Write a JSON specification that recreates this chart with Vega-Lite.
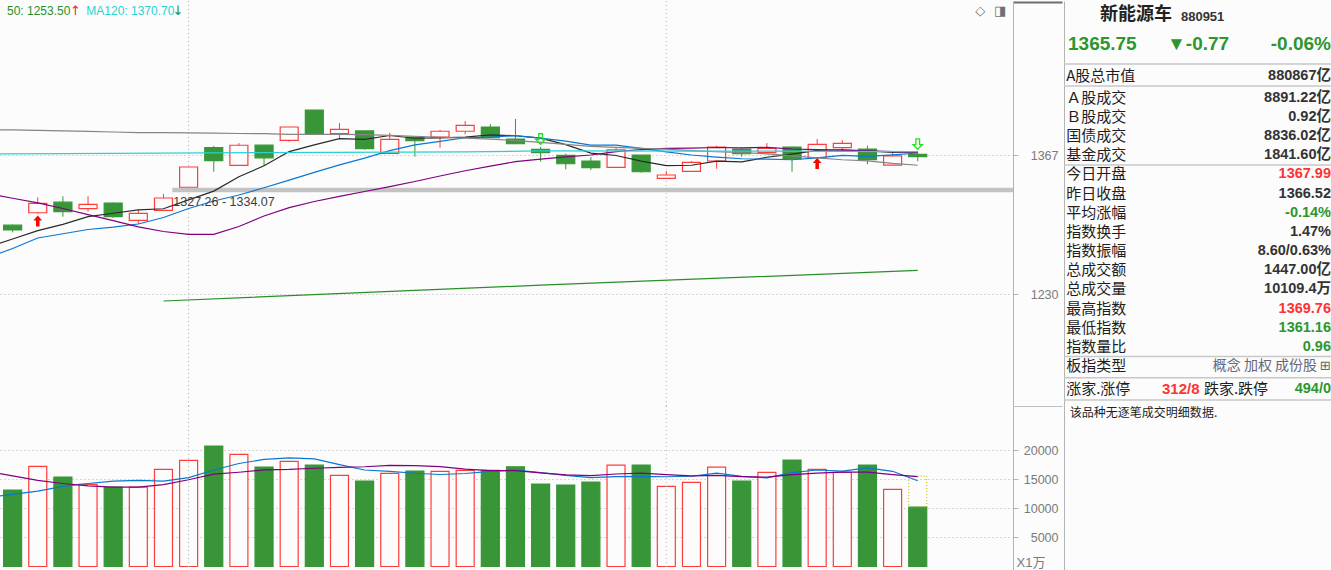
{
"$schema": "https://vega.github.io/schema/vega-lite/v6.json",
"padding": 0,
"background": "#fcfcfc",
"config": {"view": {"stroke": null}, "axis": {"labelFont": "Liberation Sans", "labelColor": "#7a7a7a", "labelFontSize": 12.5, "domainColor": "#b4b4b4", "tickColor": "#b4b4b4"}},
"datasets": {
"k": [
{"i":0,"o":1298.1,"h":1298.6,"l":1291.0,"c":1293.4,"vol":13160},
{"i":1,"o":1310.4,"h":1325.6,"l":1309.4,"c":1319.7,"vol":17240},
{"i":2,"o":1320.8,"h":1326.6,"l":1306.5,"c":1311.4,"vol":15400},
{"i":3,"o":1314.4,"h":1326.6,"l":1311.4,"c":1318.7,"vol":14140},
{"i":4,"o":1320.0,"h":1320.5,"l":1305.5,"c":1306.5,"vol":13680},
{"i":5,"o":1302.9,"h":1313.8,"l":1299.3,"c":1309.8,"vol":13680},
{"i":6,"o":1312.8,"h":1328.9,"l":1311.8,"c":1324.9,"vol":16720},
{"i":7,"o":1335.5,"h":1355.5,"l":1335.5,"c":1355.5,"vol":18280},
{"i":8,"o":1374.5,"h":1376.2,"l":1350.8,"c":1361.7,"vol":20750},
{"i":9,"o":1357.1,"h":1379.1,"l":1357.1,"c":1376.9,"vol":19310},
{"i":10,"o":1377.0,"h":1377.0,"l":1356.5,"c":1364.5,"vol":17130},
{"i":11,"o":1381.8,"h":1394.9,"l":1380.4,"c":1394.9,"vol":18100},
{"i":12,"o":1411.6,"h":1411.6,"l":1387.7,"c":1388.7,"vol":17470},
{"i":13,"o":1388.3,"h":1398.8,"l":1384.0,"c":1392.6,"vol":15690},
{"i":14,"o":1391.0,"h":1391.0,"l":1372.5,"c":1373.5,"vol":14710},
{"i":15,"o":1369.0,"h":1389.3,"l":1369.0,"c":1382.8,"vol":16030},
{"i":16,"o":1385.0,"h":1385.0,"l":1365.6,"c":1381.4,"vol":16440},
{"i":17,"o":1385.0,"h":1392.0,"l":1374.5,"c":1390.7,"vol":16380},
{"i":18,"o":1390.7,"h":1400.8,"l":1387.7,"c":1396.6,"vol":16550},
{"i":19,"o":1394.9,"h":1397.8,"l":1384.0,"c":1384.3,"vol":16550},
{"i":20,"o":1383.0,"h":1402.8,"l":1378.0,"c":1378.4,"vol":17180},
{"i":21,"o":1372.9,"h":1375.2,"l":1360.7,"c":1369.6,"vol":14200},
{"i":22,"o":1367.0,"h":1368.6,"l":1353.2,"c":1358.7,"vol":14020},
{"i":23,"o":1361.4,"h":1365.3,"l":1352.5,"c":1354.8,"vol":14540},
{"i":24,"o":1355.2,"h":1374.5,"l":1355.2,"c":1372.5,"vol":17470},
{"i":25,"o":1367.3,"h":1367.3,"l":1349.9,"c":1350.8,"vol":17470},
{"i":26,"o":1344.3,"h":1351.5,"l":1344.3,"c":1347.6,"vol":13790},
{"i":27,"o":1351.2,"h":1361.4,"l":1351.2,"c":1360.1,"vol":14480},
{"i":28,"o":1361.4,"h":1376.5,"l":1353.8,"c":1375.2,"vol":17130},
{"i":29,"o":1373.2,"h":1374.5,"l":1365.6,"c":1368.6,"vol":14710},
{"i":30,"o":1369.6,"h":1379.1,"l":1368.3,"c":1373.9,"vol":16210},
{"i":31,"o":1375.2,"h":1375.5,"l":1350.8,"c":1363.4,"vol":18330},
{"i":32,"o":1364.6,"h":1383.1,"l":1364.6,"c":1377.8,"vol":16720},
{"i":33,"o":1374.5,"h":1381.8,"l":1371.2,"c":1378.8,"vol":16210},
{"i":34,"o":1373.2,"h":1376.5,"l":1358.1,"c":1362.7,"vol":17470},
{"i":35,"o":1357.4,"h":1370.0,"l":1357.4,"c":1366.52,"vol":13280},
{"i":36,"o":1367.99,"h":1369.76,"l":1361.16,"c":1365.75,"vol":10230}
],
"ma": [
{"i":-1,"s":"MA5","v":1276.2},{"i":0,"s":"MA5","v":1284.5},{"i":1,"s":"MA5","v":1292.8},{"i":2,"s":"MA5","v":1299.0},{"i":3,"s":"MA5","v":1306.5},{"i":4,"s":"MA5","v":1309.9},{"i":5,"s":"MA5","v":1313.2},{"i":6,"s":"MA5","v":1314.3},{"i":7,"s":"MA5","v":1323.1},{"i":8,"s":"MA5","v":1331.7},{"i":9,"s":"MA5","v":1345.8},{"i":10,"s":"MA5","v":1356.7},{"i":11,"s":"MA5","v":1370.7},{"i":12,"s":"MA5","v":1377.3},{"i":13,"s":"MA5","v":1383.5},{"i":14,"s":"MA5","v":1382.8},{"i":15,"s":"MA5","v":1386.5},{"i":16,"s":"MA5","v":1383.8},{"i":17,"s":"MA5","v":1384.2},{"i":18,"s":"MA5","v":1385.0},{"i":19,"s":"MA5","v":1387.2},{"i":20,"s":"MA5","v":1386.3},{"i":21,"s":"MA5","v":1383.9},{"i":22,"s":"MA5","v":1377.5},{"i":23,"s":"MA5","v":1369.2},{"i":24,"s":"MA5","v":1366.8},{"i":25,"s":"MA5","v":1361.3},{"i":26,"s":"MA5","v":1356.9},{"i":27,"s":"MA5","v":1357.2},{"i":28,"s":"MA5","v":1361.2},{"i":29,"s":"MA5","v":1360.5},{"i":30,"s":"MA5","v":1365.1},{"i":31,"s":"MA5","v":1368.2},{"i":32,"s":"MA5","v":1371.8},{"i":33,"s":"MA5","v":1372.5},{"i":34,"s":"MA5","v":1371.3},{"i":35,"s":"MA5","v":1369.8},{"i":36,"s":"MA5","v":1370.3},
{"i":-1,"s":"MA10","v":1266.1},{"i":0,"s":"MA10","v":1275.2},{"i":1,"s":"MA10","v":1285.5},{"i":2,"s":"MA10","v":1289.7},{"i":3,"s":"MA10","v":1293.9},{"i":4,"s":"MA10","v":1296.3},{"i":5,"s":"MA10","v":1299.3},{"i":6,"s":"MA10","v":1305.7},{"i":7,"s":"MA10","v":1314.6},{"i":8,"s":"MA10","v":1322.0},{"i":9,"s":"MA10","v":1327.9},{"i":10,"s":"MA10","v":1335.0},{"i":11,"s":"MA10","v":1342.5},{"i":12,"s":"MA10","v":1350.2},{"i":13,"s":"MA10","v":1357.6},{"i":14,"s":"MA10","v":1364.3},{"i":15,"s":"MA10","v":1371.6},{"i":16,"s":"MA10","v":1377.3},{"i":17,"s":"MA10","v":1380.8},{"i":18,"s":"MA10","v":1384.3},{"i":19,"s":"MA10","v":1385.0},{"i":20,"s":"MA10","v":1386.4},{"i":21,"s":"MA10","v":1383.9},{"i":22,"s":"MA10","v":1380.9},{"i":23,"s":"MA10","v":1377.1},{"i":24,"s":"MA10","v":1377.0},{"i":25,"s":"MA10","v":1373.8},{"i":26,"s":"MA10","v":1370.4},{"i":27,"s":"MA10","v":1367.3},{"i":28,"s":"MA10","v":1365.2},{"i":29,"s":"MA10","v":1363.6},{"i":30,"s":"MA10","v":1363.2},{"i":31,"s":"MA10","v":1362.6},{"i":32,"s":"MA10","v":1364.5},{"i":33,"s":"MA10","v":1366.9},{"i":34,"s":"MA10","v":1365.9},{"i":35,"s":"MA10","v":1367.5},{"i":36,"s":"MA10","v":1369.3},
{"i":-1,"s":"MA20","v":1329.4},{"i":0,"s":"MA20","v":1324.7},{"i":1,"s":"MA20","v":1320.1},{"i":2,"s":"MA20","v":1314.6},{"i":3,"s":"MA20","v":1308.5},{"i":4,"s":"MA20","v":1302.7},{"i":5,"s":"MA20","v":1296.5},{"i":6,"s":"MA20","v":1291.9},{"i":7,"s":"MA20","v":1289.1},{"i":8,"s":"MA20","v":1289.1},{"i":9,"s":"MA20","v":1296.8},{"i":10,"s":"MA20","v":1307.2},{"i":11,"s":"MA20","v":1315.5},{"i":12,"s":"MA20","v":1321.5},{"i":13,"s":"MA20","v":1326.5},{"i":14,"s":"MA20","v":1331.3},{"i":15,"s":"MA20","v":1336.1},{"i":16,"s":"MA20","v":1341.2},{"i":17,"s":"MA20","v":1346.6},{"i":18,"s":"MA20","v":1351.8},{"i":19,"s":"MA20","v":1356.4},{"i":20,"s":"MA20","v":1360.7},{"i":21,"s":"MA20","v":1363.2},{"i":22,"s":"MA20","v":1365.5},{"i":23,"s":"MA20","v":1367.3},{"i":24,"s":"MA20","v":1370.6},{"i":25,"s":"MA20","v":1372.7},{"i":26,"s":"MA20","v":1373.8},{"i":27,"s":"MA20","v":1374.1},{"i":28,"s":"MA20","v":1374.7},{"i":29,"s":"MA20","v":1374.3},{"i":30,"s":"MA20","v":1374.8},{"i":31,"s":"MA20","v":1373.2},{"i":32,"s":"MA20","v":1372.7},{"i":33,"s":"MA20","v":1372.0},{"i":34,"s":"MA20","v":1371.4},{"i":35,"s":"MA20","v":1370.6},{"i":36,"s":"MA20","v":1369.8},
{"i":-1,"s":"MA60","v":1392.2},{"i":0,"s":"MA60","v":1392.0},{"i":1,"s":"MA60","v":1391.5},{"i":2,"s":"MA60","v":1391.0},{"i":3,"s":"MA60","v":1390.6},{"i":4,"s":"MA60","v":1390.0},{"i":5,"s":"MA60","v":1389.3},{"i":6,"s":"MA60","v":1389.3},{"i":7,"s":"MA60","v":1389.2},{"i":8,"s":"MA60","v":1388.9},{"i":9,"s":"MA60","v":1388.5},{"i":10,"s":"MA60","v":1388.3},{"i":11,"s":"MA60","v":1387.7},{"i":12,"s":"MA60","v":1387.7},{"i":13,"s":"MA60","v":1387.6},{"i":14,"s":"MA60","v":1387.4},{"i":15,"s":"MA60","v":1386.7},{"i":16,"s":"MA60","v":1385.8},{"i":17,"s":"MA60","v":1384.8},{"i":18,"s":"MA60","v":1384.0},{"i":19,"s":"MA60","v":1383.0},{"i":20,"s":"MA60","v":1381.5},{"i":21,"s":"MA60","v":1379.8},{"i":22,"s":"MA60","v":1377.8},{"i":23,"s":"MA60","v":1375.8},{"i":24,"s":"MA60","v":1374.8},{"i":25,"s":"MA60","v":1373.9},{"i":26,"s":"MA60","v":1373.0},{"i":27,"s":"MA60","v":1371.6},{"i":28,"s":"MA60","v":1370.5},{"i":29,"s":"MA60","v":1369.6},{"i":30,"s":"MA60","v":1368.5},{"i":31,"s":"MA60","v":1366.5},{"i":32,"s":"MA60","v":1364.5},{"i":33,"s":"MA60","v":1362.6},{"i":34,"s":"MA60","v":1361.5},{"i":35,"s":"MA60","v":1359.0},{"i":36,"s":"MA60","v":1357.2},
{"i":-1,"s":"MA120","v":1368.4},{"i":2,"s":"MA120","v":1368.7},{"i":10,"s":"MA120","v":1369.6},{"i":18,"s":"MA120","v":1370.3},{"i":21,"s":"MA120","v":1371.3},{"i":28,"s":"MA120","v":1371.2},{"i":36,"s":"MA120","v":1370.7},
{"i":6,"s":"MA250","v":1223.4},{"i":21,"s":"MA250","v":1239.0},{"i":36,"s":"MA250","v":1253.5}
],
"vma": [
{"i":-1,"s":"VMA5","v":11900},{"i":0,"s":"VMA5","v":12410},{"i":1,"s":"VMA5","v":12990},{"i":2,"s":"VMA5","v":13800},{"i":3,"s":"VMA5","v":14300},{"i":4,"s":"VMA5","v":14724},{"i":5,"s":"VMA5","v":14828},{"i":6,"s":"VMA5","v":14724},{"i":7,"s":"VMA5","v":15300},{"i":8,"s":"VMA5","v":16622},{"i":9,"s":"VMA5","v":17748},{"i":10,"s":"VMA5","v":18438},{"i":11,"s":"VMA5","v":18714},{"i":12,"s":"VMA5","v":18552},{"i":13,"s":"VMA5","v":17540},{"i":14,"s":"VMA5","v":16620},{"i":15,"s":"VMA5","v":16400},{"i":16,"s":"VMA5","v":16068},{"i":17,"s":"VMA5","v":15850},{"i":18,"s":"VMA5","v":16022},{"i":19,"s":"VMA5","v":16390},{"i":20,"s":"VMA5","v":16620},{"i":21,"s":"VMA5","v":16172},{"i":22,"s":"VMA5","v":15700},{"i":23,"s":"VMA5","v":15298},{"i":24,"s":"VMA5","v":15482},{"i":25,"s":"VMA5","v":15540},{"i":26,"s":"VMA5","v":15458},{"i":27,"s":"VMA5","v":15550},{"i":28,"s":"VMA5","v":16068},{"i":29,"s":"VMA5","v":15516},{"i":30,"s":"VMA5","v":15264},{"i":31,"s":"VMA5","v":16172},{"i":32,"s":"VMA5","v":16620},{"i":33,"s":"VMA5","v":16436},{"i":34,"s":"VMA5","v":16984},{"i":35,"s":"VMA5","v":16398},{"i":36,"s":"VMA5","v":14778},
{"i":-1,"s":"VMA10","v":16400},{"i":0,"s":"VMA10","v":15600},{"i":1,"s":"VMA10","v":14830},{"i":2,"s":"VMA10","v":14300},{"i":3,"s":"VMA10","v":13900},{"i":4,"s":"VMA10","v":13680},{"i":5,"s":"VMA10","v":13680},{"i":6,"s":"VMA10","v":14100},{"i":7,"s":"VMA10","v":14950},{"i":8,"s":"VMA10","v":15900},{"i":9,"s":"VMA10","v":16236},{"i":10,"s":"VMA10","v":16633},{"i":11,"s":"VMA10","v":16719},{"i":12,"s":"VMA10","v":16926},{"i":13,"s":"VMA10","v":17081},{"i":14,"s":"VMA10","v":17184},{"i":15,"s":"VMA10","v":17419},{"i":16,"s":"VMA10","v":17391},{"i":17,"s":"VMA10","v":17201},{"i":18,"s":"VMA10","v":16781},{"i":19,"s":"VMA10","v":16505},{"i":20,"s":"VMA10","v":16510},{"i":21,"s":"VMA10","v":16120},{"i":22,"s":"VMA10","v":15775},{"i":23,"s":"VMA10","v":15660},{"i":24,"s":"VMA10","v":15936},{"i":25,"s":"VMA10","v":16080},{"i":26,"s":"VMA10","v":15815},{"i":27,"s":"VMA10","v":15625},{"i":28,"s":"VMA10","v":15683},{"i":29,"s":"VMA10","v":15499},{"i":30,"s":"VMA10","v":15402},{"i":31,"s":"VMA10","v":15815},{"i":32,"s":"VMA10","v":16082},{"i":33,"s":"VMA10","v":16249},{"i":34,"s":"VMA10","v":16249},{"i":35,"s":"VMA10","v":15830},{"i":36,"s":"VMA10","v":15474}
]
},
"spacing": 0,
"bounds": "full",
"resolve": {"scale": {"color": "independent"}},
"hconcat": [
{
"spacing": 0,
"bounds": "flush",
"resolve": {"scale": {"color": "independent"}},
"vconcat": [
{
"width": 1013,
"height": 405,
"layer": [
{"data": {"values": [{"i": 6.35, "i2": 40, "lo": 1330.5, "hi": 1335.1}]},
 "mark": {"type": "rect", "clip": true, "color": "#c3c3c3"},
 "encoding": {
  "x": {"field": "i", "type": "quantitative", "scale": {"domain": [-0.303, 39.59], "nice": false, "zero": false}, "axis": null},
  "x2": {"field": "i2"},
  "y": {"field": "lo", "type": "quantitative", "scale": {"domain": [1119.9, 1519.1], "nice": false, "zero": false},
   "axis": {"orient": "right", "title": null, "values": [1119.9, 1230, 1367, 1518.1], "format": "d",
    "labelExpr": "(datum.value < 1121 || datum.value > 1500) ? '' : datum.label",
    "tickSize": {"condition": {"test": "datum.value < 1121 || datum.value > 1500", "value": 49}, "value": 5},
    "tickColor": {"condition": [{"test": "datum.value < 1121", "value": "#c0c0c0"}, {"test": "datum.value > 1500", "value": "#6e6e6e"}], "value": "#b4b4b4"},
    "tickWidth": {"condition": {"test": "datum.value > 1500", "value": 2}, "value": 1},
    "grid": true, "gridDash": [1, 3], "gridColor": "#b0b0b0",
    "gridOpacity": {"condition": {"test": "datum.value < 1121 || datum.value > 1500", "value": 0}, "value": 1},
    "labelAlign": "right", "labelPadding": 40, "labelBaseline": "middle", "domainColor": "#b4b4b4"}},
  "y2": {"field": "hi"}}},
{"data": {"values": [{"i": 7}, {"i": 26}]},
 "mark": {"type": "rule", "strokeDash": [1, 3], "color": "#b0b0b0", "strokeWidth": 1},
 "encoding": {"x": {"field": "i", "type": "quantitative", "scale": {"domain": [-0.303, 39.59], "nice": false, "zero": false}, "axis": null}}},
{"mark": {"type": "rule", "clip": true, "color": "#6e6e6e", "strokeWidth": 2},
 "encoding": {"y": {"datum": 1518.1, "type": "quantitative", "scale": {"domain": [1119.9, 1519.1], "nice": false, "zero": false}}}},
{"mark": {"type": "rule", "color": "#c0c0c0", "strokeWidth": 1},
 "encoding": {"y": {"datum": 1119.9, "type": "quantitative", "scale": {"domain": [1119.9, 1519.1], "nice": false, "zero": false}}}},
{"data": {"name": "k"},
 "mark": {"type": "rule", "clip": true, "strokeWidth": 1},
 "encoding": {
  "x": {"field": "i", "type": "quantitative", "scale": {"domain": [-0.303, 39.59], "nice": false, "zero": false}, "axis": null},
  "y": {"field": "l", "type": "quantitative", "scale": {"domain": [1119.9, 1519.1], "nice": false, "zero": false}},
  "y2": {"field": "h"},
  "color": {"condition": {"test": "datum.c >= datum.o", "value": "#ff3c3c"}, "value": "#389638"}}},
{"data": {"name": "k"},
 "mark": {"type": "bar", "clip": true, "width": 18, "strokeWidth": 1.2},
 "encoding": {
  "x": {"field": "i", "type": "quantitative", "scale": {"domain": [-0.303, 39.59], "nice": false, "zero": false}, "axis": null},
  "y": {"field": "o", "type": "quantitative", "scale": {"domain": [1119.9, 1519.1], "nice": false, "zero": false}},
  "y2": {"field": "c"},
  "fill": {"condition": {"test": "datum.c >= datum.o", "value": "#fcfcfc"}, "value": "#389638"},
  "stroke": {"condition": {"test": "datum.c >= datum.o", "value": "#ff3c3c"}, "value": "#389638"}}},
{"data": {"name": "ma"},
 "mark": {"type": "line", "clip": true, "strokeWidth": 1.2},
 "encoding": {
  "x": {"field": "i", "type": "quantitative", "scale": {"domain": [-0.303, 39.59], "nice": false, "zero": false}, "axis": null},
  "y": {"field": "v", "type": "quantitative", "scale": {"domain": [1119.9, 1519.1], "nice": false, "zero": false}},
  "color": {"field": "s", "type": "nominal", "legend": null, "scale": {"domain": ["MA5","MA10","MA20","MA60","MA120","MA250","up","down","icon"], "range": ["#2a2a2a","#0a78d2","#800080","#858585","#28d2d2","#2a8f2a","#ff2020","#2a8f2a","#707070"]}}}},
{"data": {"values": [{"i": 1, "v": 1302.2}, {"i": 32, "v": 1358.9}]},
 "mark": {"type": "point", "clip": true, "shape": "M0,-1L0.8,-0.1L0.32,-0.1L0.32,1L-0.32,1L-0.32,-0.1L-0.8,-0.1Z", "filled": true, "color": "#ff0000", "size": 121, "opacity": 1},
 "encoding": {
  "x": {"field": "i", "type": "quantitative", "scale": {"domain": [-0.303, 39.59], "nice": false, "zero": false}, "axis": null},
  "y": {"field": "v", "type": "quantitative", "scale": {"domain": [1119.9, 1519.1], "nice": false, "zero": false}}}},
{"data": {"values": [{"i": 21, "v": 1383.1}, {"i": 36, "v": 1378.1}]},
 "mark": {"type": "point", "clip": true, "shape": "M0,1L0.9,0.1L0.35,0.1L0.35,-1L-0.35,-1L-0.35,0.1L-0.9,0.1Z", "filled": false, "stroke": "#22e022", "strokeWidth": 1.3, "size": 110, "opacity": 1},
 "encoding": {
  "x": {"field": "i", "type": "quantitative", "scale": {"domain": [-0.303, 39.59], "nice": false, "zero": false}, "axis": null},
  "y": {"field": "v", "type": "quantitative", "scale": {"domain": [1119.9, 1519.1], "nice": false, "zero": false}}}},
{"data": {"values": [{"i": 6.35, "v": 1321.3, "t": "1327.26 - 1334.07"}]},
 "mark": {"type": "text", "clip": true, "align": "left", "baseline": "middle", "dx": 1, "font": "Liberation Sans", "fontSize": 12.5, "color": "#3c3c3c"},
 "encoding": {
  "x": {"field": "i", "type": "quantitative", "scale": {"domain": [-0.303, 39.59], "nice": false, "zero": false}, "axis": null},
  "y": {"field": "v", "type": "quantitative", "scale": {"domain": [1119.9, 1519.1], "nice": false, "zero": false}},
  "text": {"field": "t"}}},
{"data": {"values": [{"i": -0.2245, "v": 1509.2, "s": "MA250", "t": "50: 1253.50"}, {"i": 2.93, "v": 1509.2, "s": "MA120", "t": "MA120: 1370.70"}]},
 "mark": {"type": "text", "clip": true, "align": "left", "baseline": "middle", "font": "Liberation Sans", "fontSize": 12},
 "encoding": {
  "x": {"field": "i", "type": "quantitative", "scale": {"domain": [-0.303, 39.59], "nice": false, "zero": false}, "axis": null},
  "y": {"field": "v", "type": "quantitative", "scale": {"domain": [1119.9, 1519.1], "nice": false, "zero": false}},
  "color": {"field": "s", "type": "nominal", "legend": null, "scale": {"domain": ["MA5","MA10","MA20","MA60","MA120","MA250","up","down","icon"], "range": ["#2a2a2a","#0a78d2","#800080","#858585","#28d2d2","#2a8f2a","#ff2020","#2a8f2a","#707070"]}},
  "text": {"field": "t"}}},
{"data": {"values": [{"i": 2.5, "v": 1509.2, "s": "up", "t": "↑"}, {"i": 6.58, "v": 1509.2, "s": "down", "t": "↓"}, {"i": 38.49, "v": 1509.2, "s": "icon", "t": "◇"}, {"i": 39.28, "v": 1509.2, "s": "icon", "t": "◨"}]},
 "mark": {"type": "text", "clip": true, "align": "center", "baseline": "middle", "font": "DejaVu Sans", "fontSize": 13},
 "encoding": {
  "x": {"field": "i", "type": "quantitative", "scale": {"domain": [-0.303, 39.59], "nice": false, "zero": false}, "axis": null},
  "y": {"field": "v", "type": "quantitative", "scale": {"domain": [1119.9, 1519.1], "nice": false, "zero": false}},
  "color": {"field": "s", "type": "nominal", "legend": null, "scale": {"domain": ["MA5","MA10","MA20","MA60","MA120","MA250","up","down","icon"], "range": ["#2a2a2a","#0a78d2","#800080","#858585","#28d2d2","#2a8f2a","#ff2020","#2a8f2a","#707070"]}},
  "text": {"field": "t"}}}
]
},
{
"width": 1013,
"height": 165,
"layer": [
{"data": {"name": "k"},
 "mark": {"type": "bar", "clip": true, "width": 18, "strokeWidth": 1.2},
 "encoding": {
  "x": {"field": "i", "type": "quantitative", "scale": {"domain": [-0.303, 39.59], "nice": false, "zero": false}, "axis": null},
  "y": {"field": "vol", "type": "quantitative", "scale": {"domain": [-775, 27649], "nice": false, "zero": false},
   "axis": {"orient": "right", "title": "X1万", "titleAngle": 0, "titleX": 3, "titleY": 163, "titleAlign": "left", "titleBaseline": "bottom",
    "titleFont": "Liberation Sans, Noto Sans CJK SC", "titleFontSize": 13, "titleFontWeight": "normal", "titleColor": "#7a7a7a",
    "values": [5000, 10000, 15000, 20000], "format": "d", "tickSize": 5,
    "grid": true, "gridDash": [1, 3], "gridColor": "#b0b0b0",
    "labelAlign": "right", "labelPadding": 40, "labelBaseline": "middle", "domainColor": "#b4b4b4"}},
  "y2": {"datum": 0},
  "fill": {"condition": {"test": "datum.c >= datum.o", "value": "#fcfcfc"}, "value": "#389638"},
  "stroke": {"condition": {"test": "datum.c >= datum.o", "value": "#ff3c3c"}, "value": "#389638"}}},
{"data": {"values": [{"i": 7}, {"i": 26}]},
 "mark": {"type": "rule", "strokeDash": [1, 3], "color": "#b0b0b0", "strokeWidth": 1},
 "encoding": {"x": {"field": "i", "type": "quantitative", "scale": {"domain": [-0.303, 39.59], "nice": false, "zero": false}, "axis": null}}},
{"mark": {"type": "rule", "color": "#c0c0c0", "strokeWidth": 1.5},
 "encoding": {"y": {"datum": -230, "type": "quantitative", "scale": {"domain": [-775, 27649], "nice": false, "zero": false}}}},
{"data": {"values": [{"i": 36, "top": 15580, "base": 10230}]},
 "mark": {"type": "bar", "clip": true, "width": 18, "fillOpacity": 0, "stroke": "#b5b500", "strokeWidth": 1, "strokeDash": [1, 2]},
 "encoding": {
  "x": {"field": "i", "type": "quantitative", "scale": {"domain": [-0.303, 39.59], "nice": false, "zero": false}, "axis": null},
  "y": {"field": "top", "type": "quantitative", "scale": {"domain": [-775, 27649], "nice": false, "zero": false}},
  "y2": {"field": "base"}}},
{"data": {"name": "vma"},
 "mark": {"type": "line", "clip": true, "strokeWidth": 1.2},
 "encoding": {
  "x": {"field": "i", "type": "quantitative", "scale": {"domain": [-0.303, 39.59], "nice": false, "zero": false}, "axis": null},
  "y": {"field": "v", "type": "quantitative", "scale": {"domain": [-775, 27649], "nice": false, "zero": false}},
  "color": {"field": "s", "type": "nominal", "legend": null, "scale": {"domain": ["VMA5", "VMA10"], "range": ["#0a78d2", "#800080"]}}}}
]
}
]
},
{
"width": 267,
"height": 570,
"layer": [
{"data": {"values": [{"r": 3.243}, {"r": 4.39}, {"r": 8.51}, {"r": 18.5}, {"r": 19.6}, {"r": 20.76}]},
 "mark": {"type": "rule", "color": "#c8c8c8", "strokeWidth": 1.5},
 "encoding": {"y": {"field": "r", "type": "quantitative", "scale": {"domain": [-0.0417, 29.68], "reverse": true, "nice": false, "zero": false},
   "axis": {"orient": "left", "title": null, "domain": true, "domainColor": "#b4b4b4", "ticks": false, "labels": false, "grid": false}}}},
{"data": {"values": [
  {"r": 3.868, "t": "A股总市值"}, {"r": 5, "t": "Ａ股成交"}, {"r": 6, "t": "Ｂ股成交"}, {"r": 7, "t": "国债成交"}, {"r": 8, "t": "基金成交"},
  {"r": 9, "t": "今日开盘"}, {"r": 10, "t": "昨日收盘"}, {"r": 11, "t": "平均涨幅"}, {"r": 12, "t": "指数换手"}, {"r": 13, "t": "指数振幅"},
  {"r": 14, "t": "总成交额"}, {"r": 15, "t": "总成交量"}, {"r": 16, "t": "最高指数"}, {"r": 17, "t": "最低指数"}, {"r": 18, "t": "指数量比"},
  {"r": 19, "t": "板指类型"}, {"r": 20.17, "t": "涨家.涨停"}]},
 "mark": {"type": "text", "align": "left", "baseline": "middle", "font": "Noto Sans CJK SC", "fontSize": 15, "color": "#1e1e1e"},
 "encoding": {
  "x": {"datum": 0.008, "type": "quantitative", "scale": {"domain": [0, 1], "nice": false, "zero": false}, "axis": null},
  "y": {"field": "r", "type": "quantitative", "scale": {"domain": [-0.0417, 29.68], "reverse": true, "nice": false, "zero": false}},
  "text": {"field": "t"}}},
{"data": {"values": [
  {"r": 3.868, "t": "880867亿", "tone": "flat"}, {"r": 5, "t": "8891.22亿", "tone": "flat"}, {"r": 6, "t": "0.92亿", "tone": "flat"},
  {"r": 7, "t": "8836.02亿", "tone": "flat"}, {"r": 8, "t": "1841.60亿", "tone": "flat"}, {"r": 9, "t": "1367.99", "tone": "up"},
  {"r": 10, "t": "1366.52", "tone": "flat"}, {"r": 11, "t": "-0.14%", "tone": "down"}, {"r": 12, "t": "1.47%", "tone": "flat"},
  {"r": 13, "t": "8.60/0.63%", "tone": "flat"}, {"r": 14, "t": "1447.00亿", "tone": "flat"}, {"r": 15, "t": "10109.4万", "tone": "flat"},
  {"r": 16, "t": "1369.76", "tone": "up"}, {"r": 17, "t": "1361.16", "tone": "down"}, {"r": 18, "t": "0.96", "tone": "down"},
  {"r": 20.17, "t": "494/0", "tone": "down"}]},
 "mark": {"type": "text", "align": "right", "baseline": "middle", "font": "Liberation Sans, Noto Sans CJK SC", "fontSize": 14.5, "fontWeight": "bold"},
 "encoding": {
  "x": {"datum": 1, "type": "quantitative", "scale": {"domain": [0, 1], "nice": false, "zero": false}, "axis": null},
  "y": {"field": "r", "type": "quantitative", "scale": {"domain": [-0.0417, 29.68], "reverse": true, "nice": false, "zero": false}},
  "color": {"field": "tone", "type": "nominal", "legend": null, "scale": {"domain": ["up", "down", "flat"], "range": ["#ff3333", "#2d962d", "#333333"]}},
  "text": {"field": "t"}}},
{"data": {"values": [{"r": 19, "t": "概念 加权 成份股"}]},
 "mark": {"type": "text", "align": "right", "baseline": "middle", "font": "Noto Sans CJK SC", "fontSize": 14, "color": "#66667a"},
 "encoding": {
  "x": {"datum": 0.948, "type": "quantitative", "scale": {"domain": [0, 1], "nice": false, "zero": false}, "axis": null},
  "y": {"field": "r", "type": "quantitative", "scale": {"domain": [-0.0417, 29.68], "reverse": true, "nice": false, "zero": false}},
  "text": {"field": "t"}}},
{"data": {"values": [{"r": 19, "t": "⊞"}]},
 "mark": {"type": "text", "align": "center", "baseline": "middle", "font": "DejaVu Sans", "fontSize": 13, "color": "#666666"},
 "encoding": {
  "x": {"datum": 0.978, "type": "quantitative", "scale": {"domain": [0, 1], "nice": false, "zero": false}, "axis": null},
  "y": {"field": "r", "type": "quantitative", "scale": {"domain": [-0.0417, 29.68], "reverse": true, "nice": false, "zero": false}},
  "text": {"field": "t"}}},
{"data": {"values": [{"r": 0.673, "t": "新能源车"}]},
 "mark": {"type": "text", "align": "left", "baseline": "middle", "font": "Noto Sans CJK SC", "fontSize": 18, "fontWeight": "bold", "color": "#222222"},
 "encoding": {
  "x": {"datum": 0.135, "type": "quantitative", "scale": {"domain": [0, 1], "nice": false, "zero": false}, "axis": null},
  "y": {"field": "r", "type": "quantitative", "scale": {"domain": [-0.0417, 29.68], "reverse": true, "nice": false, "zero": false}},
  "text": {"field": "t"}}},
{"data": {"values": [{"r": 0.78, "t": "880951"}]},
 "mark": {"type": "text", "align": "left", "baseline": "middle", "font": "Liberation Sans", "fontSize": 13, "fontWeight": "bold", "color": "#333333"},
 "encoding": {
  "x": {"datum": 0.438, "type": "quantitative", "scale": {"domain": [0, 1], "nice": false, "zero": false}, "axis": null},
  "y": {"field": "r", "type": "quantitative", "scale": {"domain": [-0.0417, 29.68], "reverse": true, "nice": false, "zero": false}},
  "text": {"field": "t"}}},
{"data": {"values": [{"r": 2.216, "t": "1365.75"}]},
 "mark": {"type": "text", "align": "left", "baseline": "middle", "font": "Liberation Sans, DejaVu Sans", "fontSize": 19, "fontWeight": "bold", "color": "#2d962d"},
 "encoding": {
  "x": {"datum": 0.015, "type": "quantitative", "scale": {"domain": [0, 1], "nice": false, "zero": false}, "axis": null},
  "y": {"field": "r", "type": "quantitative", "scale": {"domain": [-0.0417, 29.68], "reverse": true, "nice": false, "zero": false}},
  "text": {"field": "t"}}},
{"data": {"values": [{"r": 2.216, "t": "▼-0.77"}]},
 "mark": {"type": "text", "align": "left", "baseline": "middle", "font": "Liberation Sans, DejaVu Sans", "fontSize": 19, "fontWeight": "bold", "color": "#2d962d"},
 "encoding": {
  "x": {"datum": 0.386, "type": "quantitative", "scale": {"domain": [0, 1], "nice": false, "zero": false}, "axis": null},
  "y": {"field": "r", "type": "quantitative", "scale": {"domain": [-0.0417, 29.68], "reverse": true, "nice": false, "zero": false}},
  "text": {"field": "t"}}},
{"data": {"values": [{"r": 2.216, "t": "-0.06%"}]},
 "mark": {"type": "text", "align": "right", "baseline": "middle", "font": "Liberation Sans, DejaVu Sans", "fontSize": 19, "fontWeight": "bold", "color": "#2d962d"},
 "encoding": {
  "x": {"datum": 1, "type": "quantitative", "scale": {"domain": [0, 1], "nice": false, "zero": false}, "axis": null},
  "y": {"field": "r", "type": "quantitative", "scale": {"domain": [-0.0417, 29.68], "reverse": true, "nice": false, "zero": false}},
  "text": {"field": "t"}}},
{"data": {"values": [{"r": 20.17, "t": "312/8"}]},
 "mark": {"type": "text", "align": "left", "baseline": "middle", "font": "Liberation Sans", "fontSize": 15, "fontWeight": "bold", "color": "#ff3333"},
 "encoding": {
  "x": {"datum": 0.367, "type": "quantitative", "scale": {"domain": [0, 1], "nice": false, "zero": false}, "axis": null},
  "y": {"field": "r", "type": "quantitative", "scale": {"domain": [-0.0417, 29.68], "reverse": true, "nice": false, "zero": false}},
  "text": {"field": "t"}}},
{"data": {"values": [{"r": 20.17, "t": "跌家.跌停"}]},
 "mark": {"type": "text", "align": "left", "baseline": "middle", "font": "Noto Sans CJK SC", "fontSize": 15, "color": "#1e1e1e"},
 "encoding": {
  "x": {"datum": 0.524, "type": "quantitative", "scale": {"domain": [0, 1], "nice": false, "zero": false}, "axis": null},
  "y": {"field": "r", "type": "quantitative", "scale": {"domain": [-0.0417, 29.68], "reverse": true, "nice": false, "zero": false}},
  "text": {"field": "t"}}},
{"data": {"values": [{"r": 21.45, "t": "该品种无逐笔成交明细数据."}]},
 "mark": {"type": "text", "align": "left", "baseline": "middle", "font": "Noto Sans CJK SC", "fontSize": 12, "color": "#1e1e1e"},
 "encoding": {
  "x": {"datum": 0.022, "type": "quantitative", "scale": {"domain": [0, 1], "nice": false, "zero": false}, "axis": null},
  "y": {"field": "r", "type": "quantitative", "scale": {"domain": [-0.0417, 29.68], "reverse": true, "nice": false, "zero": false}},
  "text": {"field": "t"}}}
]
}
]
}
